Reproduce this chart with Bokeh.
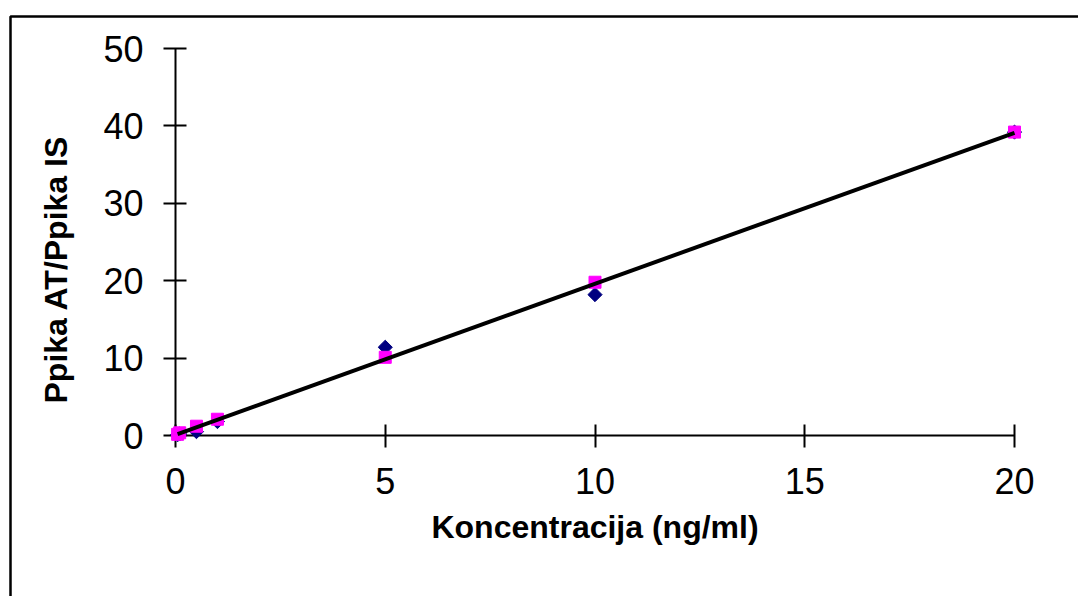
import numpy as np
from bokeh.plotting import figure
from bokeh.models import Range1d, FixedTicker
from bokeh.core.properties import value
from bokeh.embed import file_html
from bokeh.resources import INLINE

# ---- data ----
concentration = [0.05, 0.1, 0.5, 1, 5, 10, 20]
series_navy = [0.1, 0.2, 0.5, 1.8, 11.4, 18.2, 39.2]
series_pink = [0.15, 0.35, 1.2, 2.1, 10.1, 19.8, 39.2]
x_ticks = [0, 5, 10, 15, 20]
y_ticks = [0, 10, 20, 30, 40, 50]
x_title = "Koncentracija (ng/ml)"
y_title = "Ppika AT/Ppika IS"

# linear trend line fitted to the data
xs_all = np.array(concentration + concentration, dtype=float)
ys_all = np.array(series_navy + series_pink, dtype=float)
slope, intercept = np.polyfit(xs_all, ys_all, 1)
trend_x = [min(concentration), max(concentration)]
trend_y = [slope * v + intercept for v in trend_x]

FONT = "Liberation Sans"

p = figure(width=1078, height=596,
           x_range=Range1d(0, 20), y_range=Range1d(0, 50),
           output_backend="svg", toolbar_location=None, title=None,
           min_border_left=175, min_border_right=64,
           min_border_top=48, min_border_bottom=161)
p.outline_line_color = None
p.background_fill_color = "white"
p.border_fill_color = "white"
p.xgrid.visible = False
p.ygrid.visible = False

# pixel-space ranges (page pixels) for the chart-area frame and the y title
p.extra_x_ranges = {"px": Range1d(175, 1014)}
p.extra_y_ranges = {"px": Range1d(435, 48)}

for ax, ticks in ((p.xaxis, x_ticks), (p.yaxis, y_ticks)):
    ax.ticker = FixedTicker(ticks=ticks)
    ax.axis_line_color = "black"
    ax.axis_line_width = 2
    ax.major_tick_line_color = "black"
    ax.major_tick_line_width = 2
    ax.major_tick_in = 11
    ax.major_tick_out = 12
    ax.minor_tick_line_color = None
    ax.major_label_text_font = FONT
    ax.major_label_text_font_size = "36px"
    ax.major_label_text_color = "black"
    ax.axis_label_text_font = FONT
    ax.axis_label_text_font_style = "bold"
    ax.axis_label_text_font_size = "32px"
    ax.axis_label_text_color = "black"

p.xaxis.major_label_standoff = 20
p.yaxis.major_label_standoff = 20
p.xaxis.axis_label = x_title
p.xaxis.axis_label_standoff = 12

r1 = p.scatter(concentration, series_navy, marker="square", angle=np.pi / 4,
               size=10, fill_color="#000080", line_color="#000080")
r2 = p.scatter(concentration, series_pink, marker="square",
               size=12, fill_color="#FF00FF", line_color="#FF00FF")
r3 = p.line(trend_x, trend_y, line_color="black", line_width=4)

# y-axis title
r4 = p.text(x=[55], y=[269], text=[y_title], angle=np.pi / 2,
            x_range_name="px", y_range_name="px",
            text_align="center", text_baseline="middle",
            text_font=value(FONT), text_font_style="bold",
            text_font_size="32px", text_color="black")

# outer chart-area border (left and top edges visible)
r5 = p.line(x=[10, 10, 1200], y=[700, 16, 16],
            x_range_name="px", y_range_name="px",
            line_color="black", line_width=2.5)

for r in (r1, r2, r3, r4, r5):
    r.level = "overlay"

open("out.html", "w").write(file_html(p, INLINE))
